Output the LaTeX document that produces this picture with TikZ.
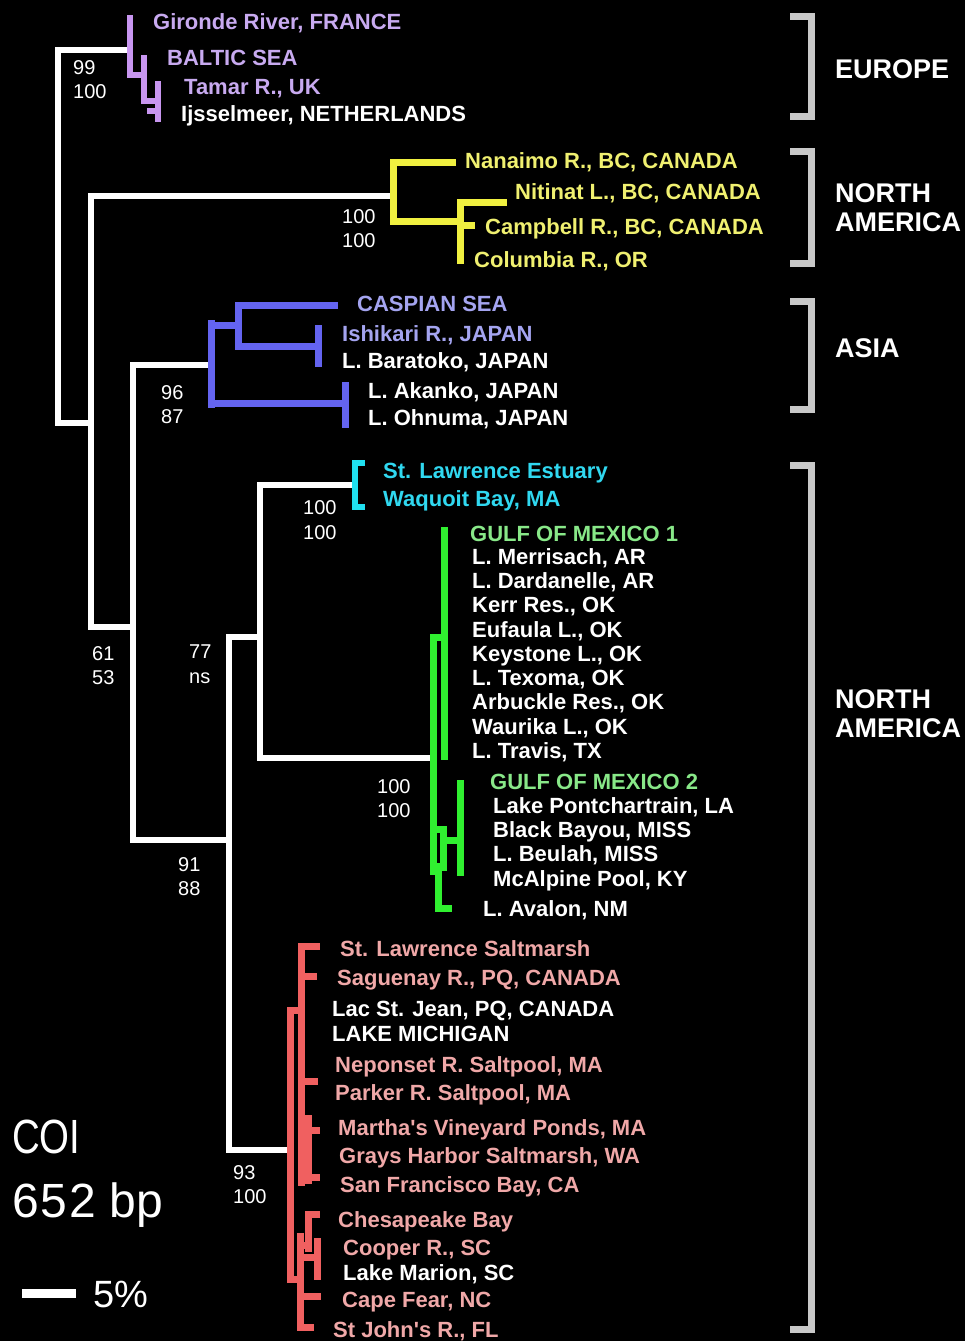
\documentclass[tikz,border=0pt]{standalone}
\usepackage{fontspec}
\setmainfont{Liberation Sans}[Ligatures=TeXOff]
\definecolor{lavline}{HTML}{C896F0}
\definecolor{lavtxt}{HTML}{C8AAF0}
\definecolor{yelline}{HTML}{F0F040}
\definecolor{yeltxt}{HTML}{F0F070}
\definecolor{blueline}{HTML}{6464F0}
\definecolor{bluetxt}{HTML}{A4A4F0}
\definecolor{cyanline}{HTML}{20E0F0}
\definecolor{cyantxt}{HTML}{30D8F0}
\definecolor{greenline}{HTML}{30F030}
\definecolor{greentxt}{HTML}{88E888}
\definecolor{redline}{HTML}{F06060}
\definecolor{redtxt}{HTML}{F0A8A8}
\definecolor{brkgray}{HTML}{C8C8C8}
\begin{document}
\begin{tikzpicture}[x=1pt,y=-1pt,
  wl/.style={draw=white,line width=6.5pt,line cap=rect,line join=miter},
  lavl/.style={draw=lavline,line width=6.5pt,line cap=rect,line join=miter},
  yell/.style={draw=yelline,line width=7pt,line cap=rect,line join=miter},
  bluel/.style={draw=blueline,line width=7pt,line cap=rect,line join=miter},
  cyanl/.style={draw=cyanline,line width=6.5pt,line cap=rect,line join=miter},
  greenl/.style={draw=greenline,line width=7pt,line cap=rect,line join=miter},
  redl/.style={draw=redline,line width=7pt,line cap=rect,line join=miter},
  brk/.style={draw=brkgray,line width=7pt,line cap=rect,line join=miter},
  lbl/.style={anchor=base west,inner sep=0pt,text=white,font=\fontsize{22}{24}\selectfont\bfseries},
  bsv/.style={anchor=base west,inner sep=0pt,text=white,font=\fontsize{20}{22}\selectfont},
  region/.style={anchor=base west,inner sep=0pt,text=white,font=\fontsize{27}{28}\selectfont\bfseries},
  big/.style={anchor=base west,inner sep=0pt,text=white,font=\fontsize{48}{50}\selectfont}
]
\fill[black] (0,0) rectangle (965,1341);
\useasboundingbox (0,0) rectangle (965,1341);

% ---------- white backbone ----------
\coordinate (eu) at (130,50);
\coordinate (root) at (58,236);
\coordinate (nA) at (91,423);
\coordinate (yel) at (393,196);
\coordinate (nB) at (133,627);
\coordinate (asia) at (211,365);
\coordinate (nC) at (229,840);
\coordinate (nD) at (260,637);
\coordinate (red) at (290,1150);
\coordinate (cyan) at (355,485);
\coordinate (green) at (433,758);

\draw[wl] (eu) -| (root) |- (nA);
\draw[wl] (yel) -| (nA) |- (nB);
\draw[wl] (asia) -| (nB) |- (nC);
\draw[wl] (nD) -| (nC) |- (red);
\draw[wl] (cyan) -| (nD) |- (green);

% ---------- Europe clade ----------
\draw[lavl] (130,18) -- (130,75) -- (144,75);
\draw[lavl] (144,58) -- (144,101) -- (158,101);
\draw[lavl] (158,84) -- (158,119);
\draw[lavl] (150,111) -- (158,111);

% ---------- N. American (BC) clade ----------
\draw[yell] (452,162) -- (393,162) -- (393,221) -- (460,221);
\draw[yell] (503,202) -- (460,202) -- (460,260);
\draw[yell] (460,225) -- (471,225);

% ---------- Asia clade ----------
\draw[bluel] (211,323) -- (211,404);
\draw[bluel] (211,325) -- (238,325);
\draw[bluel] (334,305) -- (238,305) -- (238,346) -- (318,346);
\draw[bluel] (318,328) -- (318,363);
\draw[bluel] (211,403) -- (345,403);
\draw[bluel] (345,385) -- (345,424);

% ---------- cyan clade ----------
\draw[cyanl] (362,463) -- (355,463) -- (355,507) -- (362,507);

% ---------- Gulf of Mexico clades ----------
\draw[greenl] (444,530) -- (444,756);
\draw[greenl] (444,637) -- (433,637) -- (433,871);
\draw[greenl] (438,866) -- (438,908) -- (448,908);
\draw[greenl] (433,829) -- (443,829) -- (443,867);
\draw[greenl] (443,840) -- (460,840);
\draw[greenl] (460,783) -- (460,872);

% ---------- red clade ----------
\draw[redl] (316,946) -- (301,946) -- (301,1182);
\draw[redl] (301,976) -- (313,976);
\draw[redl] (301,1010) -- (290,1010) -- (290,1279) -- (300,1279);
\draw[redl] (301,1081) -- (314,1081);
\draw[redl] (308,1118) -- (308,1180);
\draw[redl] (308,1130) -- (316,1130);
\draw[redl] (308,1177) -- (316,1177);
\draw[redl] (300,1236) -- (300,1327) -- (310,1327);
\draw[redl] (300,1245) -- (308,1245);
\draw[redl] (316,1214) -- (308,1214) -- (308,1248);
\draw[redl] (300,1257) -- (317,1257);
\draw[redl] (317,1241) -- (317,1276);
\draw[redl] (300,1296) -- (317,1296);

% ---------- region brackets ----------
\draw[brk] (793,16) -- (811,16) -- (811,116) -- (793,116);
\draw[brk] (793,151) -- (811,151) -- (811,263) -- (793,263);
\draw[brk] (793,301) -- (811,301) -- (811,409) -- (793,409);
\draw[brk] (793,465) -- (811,465) -- (811,1329) -- (793,1329);

\node[region] (rEU) at (835,78) {EUROPE};
\node[region] (rNA1a) at (835,202) {NORTH};
\node[region] (rNA1b) at (835,231) {AMERICA};
\node[region] (rAS) at (835,357) {ASIA};
\node[region] (rNA2a) at (835,708) {NORTH};
\node[region] (rNA2b) at (835,737) {AMERICA};

% ---------- leaf labels ----------
\node[lbl,text=lavtxt] (l1) at (153,29) {Gironde River, FRANCE};
\node[lbl,text=lavtxt] (l2) at (167,65) {BALTIC SEA};
\node[lbl,text=lavtxt] (l3) at (184,94) {Tamar R., UK};
\node[lbl] (l4) at (181,121) {Ijsselmeer, NETHERLANDS};

\node[lbl,text=yeltxt] (l5) at (465,168) {Nanaimo R., BC, CANADA};
\node[lbl,text=yeltxt] (l6) at (515,199) {Nitinat L., BC, CANADA};
\node[lbl,text=yeltxt] (l7) at (485,234) {Campbell R., BC, CANADA};
\node[lbl,text=yeltxt] (l8) at (474,267) {Columbia R., OR};

\node[lbl,text=bluetxt] (l9) at (357,311) {CASPIAN SEA};
\node[lbl,text=bluetxt] (l10) at (342,341) {Ishikari R., JAPAN};
\node[lbl] (l11) at (342,368) {L. Baratoko, JAPAN};
\node[lbl] (l12) at (368,398) {L. Akanko, JAPAN};
\node[lbl] (l13) at (368,425) {L. Ohnuma, JAPAN};

\node[lbl,text=cyantxt] (l14) at (383,478) {St. Lawrence Estuary};
\node[lbl,text=cyantxt] (l15) at (383,506) {Waquoit Bay, MA};

\node[lbl,text=greentxt] (l16) at (470,541) {GULF OF MEXICO 1};
\node[lbl] (l17) at (472,564) {L. Merrisach, AR};
\node[lbl] (l18) at (472,588) {L. Dardanelle, AR};
\node[lbl] (l19) at (472,612) {Kerr Res., OK};
\node[lbl] (l20) at (472,637) {Eufaula L., OK};
\node[lbl] (l21) at (472,661) {Keystone L., OK};
\node[lbl] (l22) at (472,685) {L. Texoma, OK};
\node[lbl] (l23) at (472,709) {Arbuckle Res., OK};
\node[lbl] (l24) at (472,734) {Waurika L., OK};
\node[lbl] (l25) at (472,758) {L. Travis, TX};
\node[lbl,text=greentxt] (l26) at (490,789) {GULF OF MEXICO 2};
\node[lbl] (l27) at (493,813) {Lake Pontchartrain, LA};
\node[lbl] (l28) at (493,837) {Black Bayou, MISS};
\node[lbl] (l29) at (493,861) {L. Beulah, MISS};
\node[lbl] (l30) at (493,886) {McAlpine Pool, KY};
\node[lbl] (l31) at (483,916) {L. Avalon, NM};

\node[lbl,text=redtxt] (l32) at (340,956) {St. Lawrence Saltmarsh};
\node[lbl,text=redtxt] (l33) at (337,985) {Saguenay R., PQ, CANADA};
\node[lbl] (l34) at (332,1016) {Lac St. Jean, PQ, CANADA};
\node[lbl] (l35) at (332,1041) {LAKE MICHIGAN};
\node[lbl,text=redtxt] (l36) at (335,1072) {Neponset R. Saltpool, MA};
\node[lbl,text=redtxt] (l37) at (335,1100) {Parker R. Saltpool, MA};
\node[lbl,text=redtxt] (l38) at (338,1135) {Martha's Vineyard Ponds, MA};
\node[lbl,text=redtxt] (l39) at (339,1163) {Grays Harbor Saltmarsh, WA};
\node[lbl,text=redtxt] (l40) at (340,1192) {San Francisco Bay, CA};
\node[lbl,text=redtxt] (l41) at (338,1227) {Chesapeake Bay};
\node[lbl,text=redtxt] (l42) at (343,1255) {Cooper R., SC};
\node[lbl] (l43) at (343,1280) {Lake Marion, SC};
\node[lbl,text=redtxt] (l44) at (342,1307) {Cape Fear, NC};
\node[lbl,text=redtxt] (l45) at (333,1337) {St John's R., FL};

% ---------- bootstrap values ----------
\node[bsv] (b1a) at (73,74) {99};
\node[bsv] (b1b) at (73,98) {100};
\node[bsv] (b2a) at (342,223) {100};
\node[bsv] (b2b) at (342,247) {100};
\node[bsv] (b3a) at (161,399) {96};
\node[bsv] (b3b) at (161,423) {87};
\node[bsv] (b4a) at (303,514) {100};
\node[bsv] (b4b) at (303,539) {100};
\node[bsv] (b5a) at (92,660) {61};
\node[bsv] (b5b) at (92,684) {53};
\node[bsv] (b6a) at (189,658) {77};
\node[bsv] (b6b) at (189,683) {ns};
\node[bsv] (b7a) at (377,793) {100};
\node[bsv] (b7b) at (377,817) {100};
\node[bsv] (b8a) at (178,871) {91};
\node[bsv] (b8b) at (178,895) {88};
\node[bsv] (b9a) at (233,1179) {93};
\node[bsv] (b9b) at (233,1203) {100};

% ---------- legend ----------
\node[big,xscale=0.8] (coi) at (12,1153) {COI};
\node[big] (bp) at (12,1217) {6\kern2pt5\kern2pt2 bp};
\coordinate (sb1) at (22,1293);
\coordinate (sb2) at (76,1293);
\draw[draw=white,line width=9pt] (sb1) -- (sb2);
\node[anchor=base west,inner sep=0pt,text=white,font=\fontsize{38}{40}\selectfont] (pct) at (93,1307) {5\%};
\end{tikzpicture}
\end{document}
